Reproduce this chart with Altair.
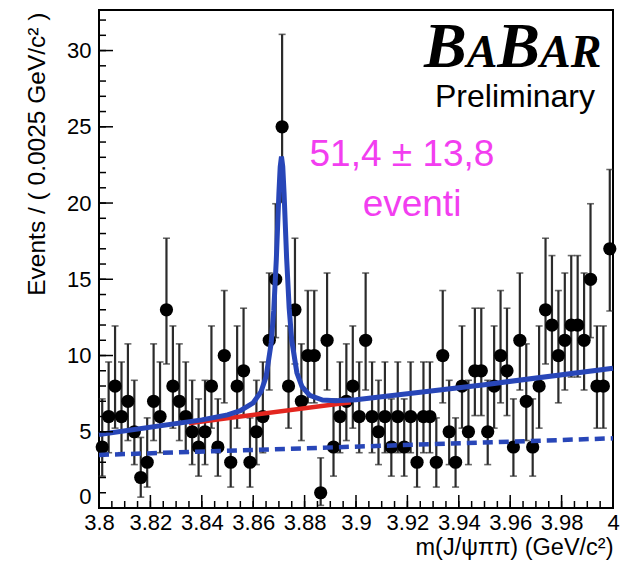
import altair as alt
import numpy as np
import pandas as pd

# ---- histogram of m(J/psi pi pi): 80 bins of 2.5 MeV/c^2 between 3.80 and 4.00 GeV/c^2
BIN_LO = 3.80
BIN_W = 0.0025
counts = [4, 6, 8, 6, 7, 5, 2, 3, 7, 6,
          13, 8, 7, 6, 5, 4, 5, 8, 4, 10,
          3, 8, 9, 3, 5, 6, 11, 15, 25, 8,
          13, 7, 10, 10, 1, 11, 4, 6, 7, 8,
          6, 11, 6, 5, 6, 4, 6, 4, 6, 3,
          6, 6, 3, 10, 5, 3, 8, 5, 9, 9,
          5, 8, 10, 9, 4, 11, 7, 4, 8, 13,
          12, 10, 11, 12, 12, 11, 15, 8, 8, 17]

# ---- total fit (signal + background), sampled along the curve
fit_x = [3.800, 3.840, 3.850, 3.855, 3.860, 3.863, 3.865, 3.867, 3.868, 3.869,
         3.870, 3.8705, 3.871, 3.8715, 3.872, 3.873, 3.874, 3.875, 3.877, 3.879,
         3.882, 3.887, 3.892, 3.900, 3.950, 4.000]
fit_y = [4.82, 5.78, 6.11, 6.38, 6.90, 7.61, 8.60, 10.82, 12.96, 16.32,
         20.64, 22.37, 23.05, 22.39, 20.68, 16.41, 13.10, 10.99, 8.87, 7.95,
         7.38, 7.08, 7.03, 7.10, 8.09, 9.17]

# ---- linear background under the signal (red) and the second background component (dashed)
bkg_x = [3.835, 3.898]
bkg_y = [5.56, 6.94]
dash_x = [3.800, 4.000]
dash_y = [3.48, 4.57]

# ---- axis labels
x_labels = [3.80, 3.82, 3.84, 3.86, 3.88, 3.90, 3.92, 3.94, 3.96, 3.98, 4.00]
y_labels = [0, 5, 10, 15, 20, 25, 30]
x_minor = [round(3.80 + 0.005 * i, 3) for i in range(41)]
y_minor = list(range(0, 33))

Y_MAX = 32.66
W, H = 514, 498
BLUE = "#2846b8"
RED = "#e3261f"
MAGENTA = "#f23ef0"
SANS = "Liberation Sans"


def poisson_interval(n):
    """68.3% central Poisson interval (Garwood), Wilson-Hilferty chi2 quantiles."""
    n = np.asarray(n, dtype=float)

    def chi2q(k, z):
        return k * (1.0 - 2.0 / (9.0 * k) + z * np.sqrt(2.0 / (9.0 * k))) ** 3

    lo = np.where(n > 0, 0.5 * chi2q(np.maximum(2.0 * n, 1e-9), -1.0), 0.0)
    hi = 0.5 * chi2q(2.0 * (n + 1.0), 1.0)
    return lo, hi


centers = [BIN_LO + (i + 0.5) * BIN_W for i in range(len(counts))]
err_lo, err_hi = poisson_interval(counts)
hist = pd.DataFrame({"m": centers, "n": counts, "lo": err_lo, "hi": err_hi})

xs = alt.Scale(domain=[3.80, 4.00], nice=False, zero=False)
ys = alt.Scale(domain=[0, Y_MAX], nice=False, zero=False)

x_axis = alt.Axis(values=x_labels, format=".2~f", ticks=False, domain=False, grid=False,
                  labelFont=SANS, labelFontSize=22, labelColor="black", labelPadding=4,
                  labelFlush=False, labelOverlap=False,
                  title="m(J/ψππ)  (GeV/c²)", titleFont=SANS, titleFontSize=23.5,
                  titleFontWeight="normal", titleColor="black", titleAlign="right",
                  titleX=W, titleY=39, titleBaseline="middle")
y_axis = alt.Axis(values=y_labels, ticks=False, domain=False, grid=False,
                  labelFont=SANS, labelFontSize=22, labelColor="black", labelPadding=8,
                  labelOverlap=False,
                  # the zero label sits just above the corner so it clears "3.8"
                  labelBaseline={"condition": {"test": "datum.value === 0",
                                               "value": "bottom"},
                                 "value": "middle"},
                  title="Events / ( 0.0025 GeV/c² )", titleFont=SANS, titleFontSize=24.5,
                  titleFontWeight="normal", titleColor="black", titleAngle=270,
                  titleAlign="right", titleBaseline="middle", titleX=-62, titleY=2)


def X(field):
    return alt.X(field, scale=xs, axis=x_axis)


def Y(field):
    return alt.Y(field, scale=ys, axis=y_axis)


# inward-pointing ticks along the bottom and left edges of the frame
xmin_df = pd.DataFrame({"v": x_minor})
xmaj_df = pd.DataFrame({"v": x_labels})
ymin_df = pd.DataFrame({"v": y_minor})
ymaj_df = pd.DataFrame({"v": y_labels})

tick_x_minor = alt.Chart(xmin_df).mark_rule(color="black", strokeWidth=1.5).encode(
    x=X("v:Q"), y=alt.value(H), y2=alt.value(H - 7))
tick_x_major = alt.Chart(xmaj_df).mark_rule(color="black", strokeWidth=1.5).encode(
    x=X("v:Q"), y=alt.value(H), y2=alt.value(H - 13))
tick_y_minor = alt.Chart(ymin_df).mark_rule(color="black", strokeWidth=1.5).encode(
    y=Y("v:Q"), x=alt.value(0), x2=alt.value(7))
tick_y_major = alt.Chart(ymaj_df).mark_rule(color="black", strokeWidth=1.5).encode(
    y=Y("v:Q"), x=alt.value(0), x2=alt.value(14))

# data points with Poisson error bars
bars = alt.Chart(hist).mark_rule(color="#2b2b2b", strokeWidth=2.2).encode(
    x=X("m:Q"), y=Y("lo:Q"), y2="hi:Q")
caps_hi = alt.Chart(hist).mark_tick(orient="horizontal", size=7, thickness=1.6,
                                    color="#2b2b2b").encode(x=X("m:Q"), y=Y("hi:Q"))
caps_lo = alt.Chart(hist).mark_tick(orient="horizontal", size=7, thickness=1.6,
                                    color="#2b2b2b").encode(x=X("m:Q"), y=Y("lo:Q"))
points = alt.Chart(hist).mark_circle(size=175, color="black", opacity=1).encode(
    x=X("m:Q"), y=Y("n:Q"))

# fit components
dashed = alt.Chart(pd.DataFrame({"x": dash_x, "y": dash_y})).mark_line(
    color=BLUE, strokeWidth=4.5, strokeDash=[10, 6]).encode(x=X("x:Q"), y=Y("y:Q"))
background = alt.Chart(pd.DataFrame({"x": bkg_x, "y": bkg_y})).mark_line(
    color=RED, strokeWidth=4.5).encode(x=X("x:Q"), y=Y("y:Q"))
total = alt.Chart(pd.DataFrame({"x": fit_x, "y": fit_y})).mark_line(
    color=BLUE, strokeWidth=5).encode(x=X("x:Q"), y=Y("y:Q"))


def label(text, px, py, size, color="black", font=SANS, style="normal",
          weight="normal", align="center", baseline="middle"):
    return alt.Chart(pd.DataFrame({"t": [text]})).mark_text(
        font=font, fontSize=size, fontStyle=style, fontWeight=weight,
        color=color, align=align, baseline=baseline).encode(
        x=alt.value(px), y=alt.value(py), text="t:N")


# BaBar logo: large B's, small-cap A's and R
LOGO = "Liberation Serif"
big, small = 64, 46
logo_parts = [("B", big), ("A", small), ("B", big), ("A", small), ("R", small)]
logo_layers = []
cursor = 325
for ch, sz in logo_parts:
    logo_layers.append(label(ch, cursor, 57, sz, font=LOGO, style="italic",
                             weight="bold", align="left", baseline="alphabetic"))
    cursor += 0.667 * sz

texts = logo_layers + [
    label("Preliminary", 416, 87, 32),
    label("51,4 ± 13,8", 303, 145, 37, color=MAGENTA),
    label("eventi", 313, 195, 37, color=MAGENTA),
]

chart = alt.layer(
    bars, caps_hi, caps_lo, points,
    dashed, background, total,
    tick_x_minor, tick_x_major, tick_y_minor, tick_y_major,
    *texts,
).properties(
    width=W, height=H,
    padding={"left": 99, "top": 10, "right": 7, "bottom": 53},
    autosize=alt.AutoSizeParams(type="none"),
    background="white",
).configure_view(stroke="black", strokeWidth=2)

chart.save("out.html", embed_options={"renderer": "svg", "actions": False})
